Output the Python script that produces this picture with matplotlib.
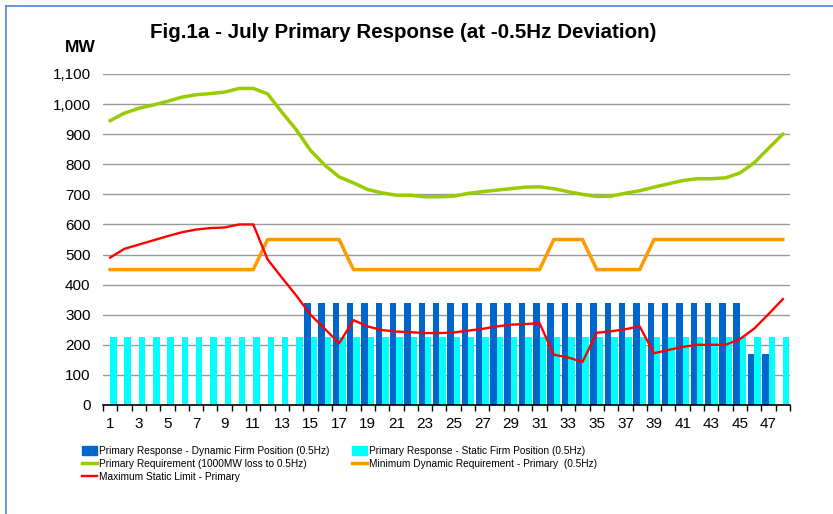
import numpy as np
import matplotlib.pyplot as plt
from matplotlib import font_manager
from matplotlib.lines import Line2D
from matplotlib.patches import Patch
from matplotlib.ticker import FuncFormatter

plt.rcParams['font.family'] = ['Liberation Sans', 'DejaVu Sans']

# Данные: расчётные периоды 1..48
periods = np.arange(1, 49)

dynamic_firm = [0] * 14 + [340] * 31 + [170, 170, 0]
static_firm = [225] * 48

primary_req = [945, 970, 986, 997, 1009, 1023, 1031, 1035, 1040, 1052,
               1052, 1034, 973, 915, 846, 797, 758, 738, 716, 705,
               697, 697, 692, 692, 694, 703, 709, 714, 719, 724,
               725, 719, 709, 700, 693, 694, 704, 712, 724, 735,
               746, 752, 752, 755, 771, 805, 853, 900]

min_dynamic = [450] * 11 + [550] * 6 + [450] * 14 + [550] * 3 + [450] * 4 + [550] * 10

max_static = [490, 519, 533, 547, 561, 574, 583, 588, 590, 600,
              600, 484, 423, 364, 300, 253, 205, 282, 261, 249,
              244, 242, 239, 239, 241, 247, 253, 261, 267, 269,
              272, 167, 158, 143, 240, 245, 252, 261, 172, 183,
              193, 200, 200, 200, 219, 254, 302, 352]

c_dyn = "#0066CC"
c_static = "#00FFFF"
c_green = "#99CC00"
c_orange = "#FF9900"
c_red = "#FF0000"

fig = plt.figure(figsize=(8.33, 5.14), dpi=100)
ax = fig.add_axes([103 / 833, 1 - 405 / 514, 687 / 833, 331 / 514])

w = 0.45
ax.bar(periods - w / 2, dynamic_firm, width=w, color=c_dyn, zorder=2)
ax.bar(periods + w / 2, static_firm, width=w, color=c_static, zorder=2)

ax.plot(periods, primary_req, color=c_green, lw=2.5, zorder=3)
ax.plot(periods, min_dynamic, color=c_orange, lw=2.5, zorder=3)
ax.plot(periods, max_static, color=c_red, lw=1.7, zorder=4)

ax.set_xlim(0.5, 48.5)
ax.set_ylim(0, 1100)
ax.set_yticks(np.arange(0, 1101, 100))
ax.yaxis.set_major_formatter(FuncFormatter(lambda v, p: f"{int(v):,}"))
ax.grid(axis='y', color='#999999', lw=1, zorder=0)

ax.set_xticks(periods[::2])
ax.set_xticks(np.arange(0.5, 49, 1), minor=True)
ax.tick_params(axis='x', which='major', length=0, pad=9, labelsize=11)
ax.tick_params(axis='x', which='minor', length=4, width=1, color='black')
ax.tick_params(axis='y', length=0, pad=9, labelsize=11)

for s in ['left', 'right', 'top']:
    ax.spines[s].set_visible(False)
ax.spines['bottom'].set_color('black')
ax.spines['bottom'].set_linewidth(1.2)
ax.spines['bottom'].set_zorder(5)

fig.text(403 / 833, 1 - 33 / 514, "Fig.1a - July Primary Response (at -0.5Hz Deviation)",
         ha='center', va='center', fontsize=14.8, fontweight='bold')
fig.text(80 / 833, 1 - 48 / 514, "MW", ha='center', va='center',
         fontsize=12.5, fontweight='bold')

# Легенда: узкий шрифт, если он есть
names = {f.name for f in font_manager.fontManager.ttflist}
if 'Liberation Sans Narrow' in names:
    leg_prop = {'family': 'Liberation Sans Narrow', 'size': 9.5}
else:
    leg_prop = {'family': 'Liberation Sans', 'size': 7.3}

col1 = [
    Patch(color=c_dyn, label="Primary Response - Dynamic Firm Position (0.5Hz)"),
    Line2D([], [], color=c_green, lw=2.5, label="Primary Requirement (1000MW loss to 0.5Hz)"),
    Line2D([], [], color=c_red, lw=1.7, label="Maximum Static Limit - Primary"),
]
col2 = [
    Patch(color=c_static, label="Primary Response - Static Firm Position (0.5Hz)"),
    Line2D([], [], color=c_orange, lw=2.5, label="Minimum Dynamic Requirement - Primary  (0.5Hz)"),
]
leg_kw = dict(loc='upper left', frameon=False, prop=leg_prop,
              handlelength=1.5, handleheight=1.0, handletextpad=0.15,
              labelspacing=0.3, borderaxespad=0, borderpad=0)
fig.legend(handles=col1, bbox_to_anchor=(82 / 833, 1 - 446 / 514), **leg_kw)
fig.legend(handles=col2, bbox_to_anchor=(352 / 833, 1 - 446 / 514), **leg_kw)

# Синяя рамка диаграммы
fig.add_artist(Line2D([5.5 / 833, 1], [1 - 5.5 / 514] * 2, color='#4A86D6', lw=1.2))
fig.add_artist(Line2D([5.5 / 833] * 2, [0, 1 - 5.5 / 514], color='#4A86D6', lw=1.2))

plt.savefig("out.png", dpi=100)
